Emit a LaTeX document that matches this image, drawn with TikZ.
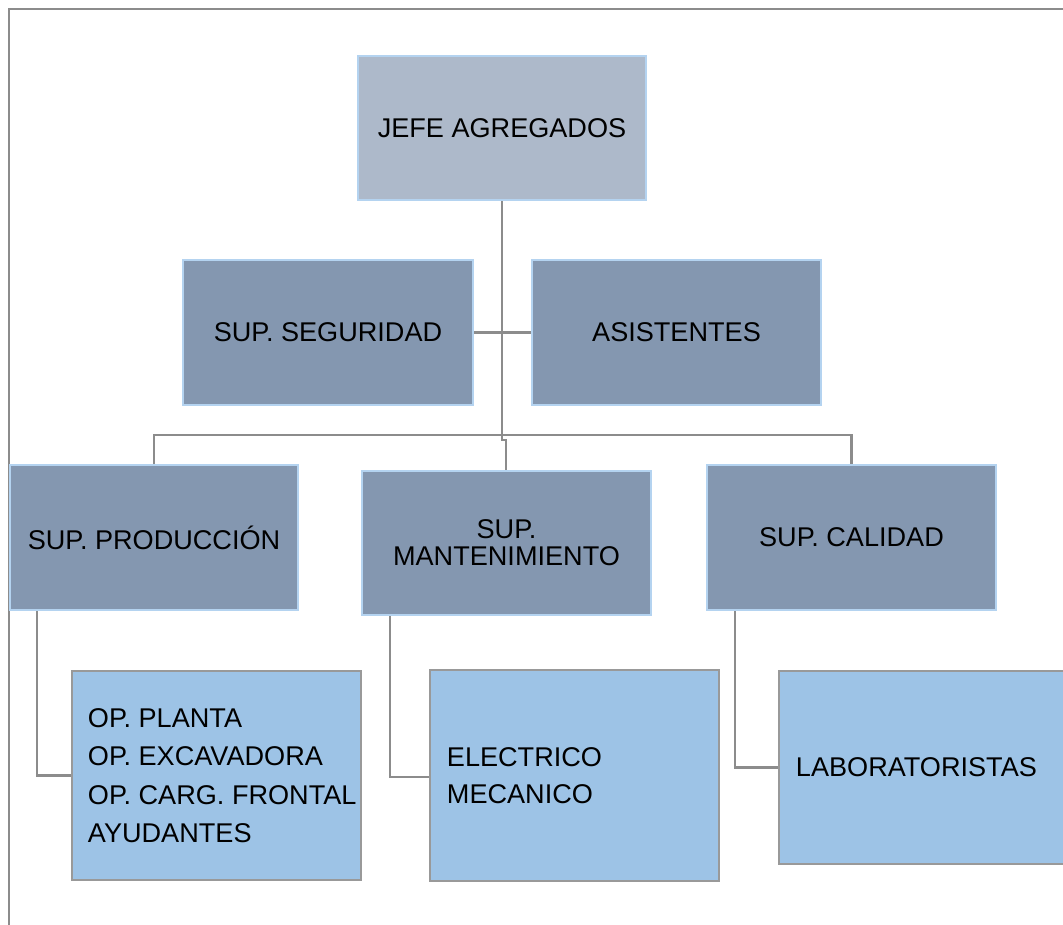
\documentclass[tikz,border=0pt]{standalone}
\usepackage{fontspec}
\setmainfont{Liberation Sans}
\definecolor{cdark}{HTML}{8497B0}
\definecolor{cjefe}{HTML}{ADB9CA}
\definecolor{clight}{HTML}{9DC3E6}
\definecolor{cedge}{HTML}{B4D3F0}
\definecolor{cgrey}{HTML}{999999}
\definecolor{cline}{HTML}{8C8C8C}
\begin{document}
\begin{tikzpicture}[x=1pt,y=-1pt,
  every node/.style={font=\fontsize{27.1}{38.5}\selectfont, text=black},
  darkbox/.style={rectangle, draw=cedge, line width=2pt, fill=cdark, inner sep=0pt, align=center},
  jefebox/.style={darkbox, fill=cjefe},
  lightbox/.style={rectangle, draw=cgrey, line width=2.5pt, fill=clight, inner sep=0pt},
  boxtext/.style={anchor=west, inner sep=0pt, align=left},
  conn/.style={draw=cline, line width=2.5pt},
  frameline/.style={draw=cline, line width=2pt}]
\useasboundingbox (0,0) rectangle (1063,924);
\clip (0,0) rectangle (1063,924);
\fill[white] (0,0) rectangle (1063,924);
\draw[frameline] (9,940) -- (9,9) -- (1080,9);

% boxes
\node[jefebox, minimum width=288pt, minimum height=144pt] (jefe) at (502,128) {JEFE AGREGADOS};
\node[darkbox, minimum width=290pt, minimum height=145pt] (seg) at (328,332.5) {SUP. SEGURIDAD};
\node[darkbox, minimum width=289pt, minimum height=145pt] (asis) at (676.5,332.5) {ASISTENTES};
\node[darkbox, minimum width=288pt, minimum height=145pt] (prod) at (154,537.5) {SUP. PRODUCCIÓN};
\node[darkbox, minimum width=289pt, minimum height=144pt, font=\fontsize{27.1}{27}\selectfont] (mant) at (506.5,543) {SUP.\\MANTENIMIENTO};
\node[darkbox, minimum width=289pt, minimum height=145pt] (cal) at (851.5,537.5) {SUP. CALIDAD};

\node[lightbox, minimum width=289pt, minimum height=209pt] (op) at (216.5,775.5) {};
\node[boxtext] (optext) at ([xshift=17pt]op.west) {OP. PLANTA\\OP. EXCAVADORA\\OP. CARG. FRONTAL\\AYUDANTES};
\node[lightbox, minimum width=289pt, minimum height=211pt] (elec) at (574.5,775.5) {};
\node[boxtext, font=\fontsize{27.1}{37.5}\selectfont] (electext) at ([xshift=18pt]elec.west) {ELECTRICO\\MECANICO};
\node[lightbox, minimum width=291pt, minimum height=193pt] (lab) at (924.5,767.5) {};
\node[boxtext] (labtext) at ([xshift=18pt]lab.west) {LABORATORISTAS};

% connectors
\coordinate (bus) at (502,435);
\coordinate (jog) at (506,440);
\draw[conn] (jefe.south) -- (bus);
\draw[conn] (prod.north) |- (bus) -| (cal.north);
\draw[conn] (bus) -- (bus |- jog) -- (jog) -- (jog |- mant.north);
\draw[conn] (seg.east) -- (asis.west);
\draw[conn] ([xshift=28pt]prod.south west) |- (op.west);
\draw[conn] ([xshift=29pt]mant.south west) |- ([yshift=-1.5pt]elec.west);
\draw[conn] ([xshift=29pt]cal.south west) |- (lab.west);
\end{tikzpicture}
\end{document}
